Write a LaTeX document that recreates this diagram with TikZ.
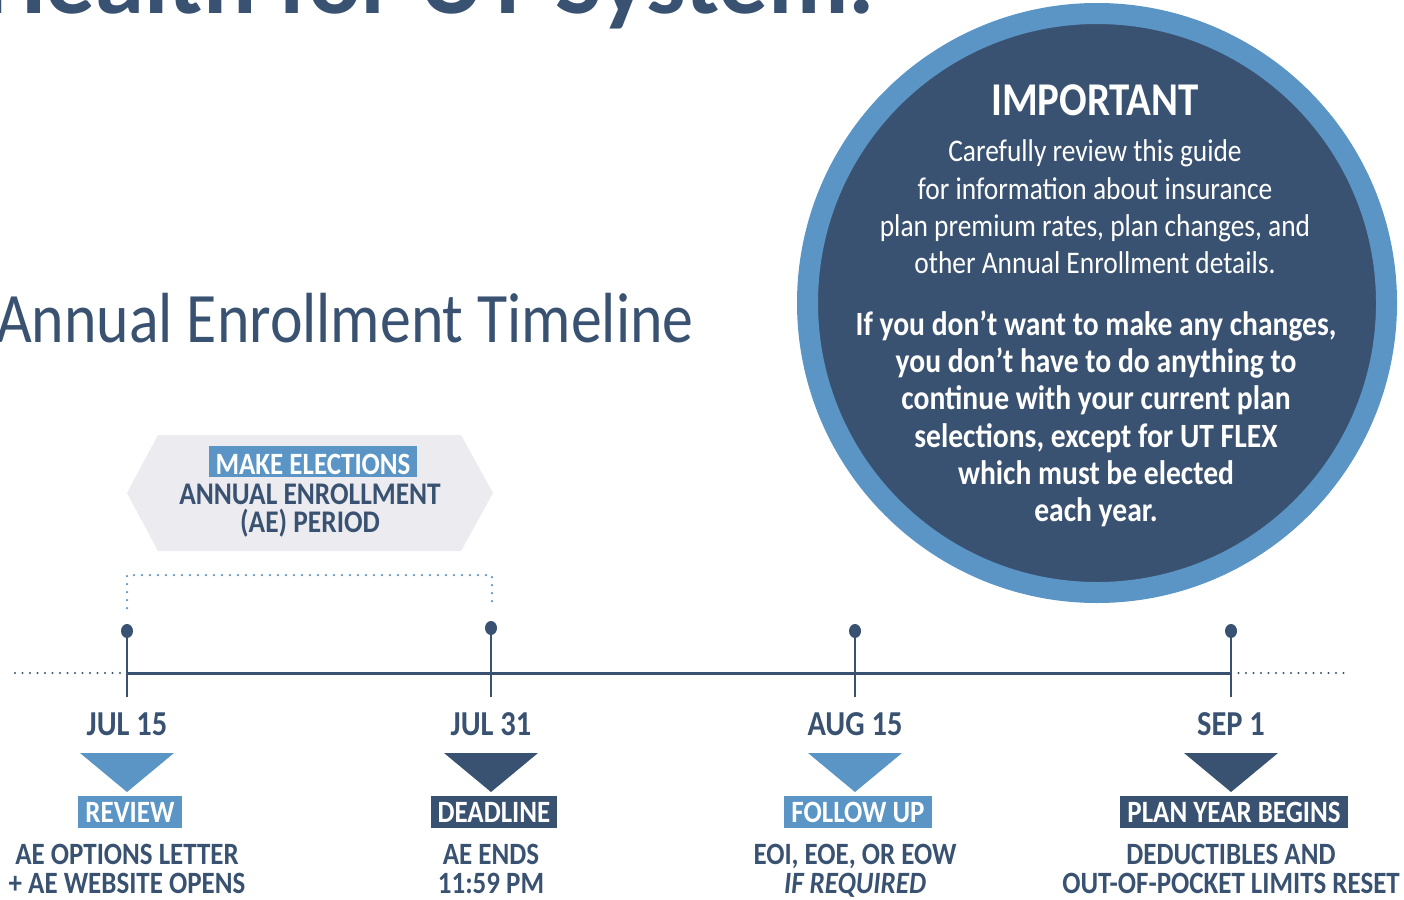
\documentclass[tikz,border=0pt]{standalone}
\usepackage{fontspec}
\setmainfont{Carlito}[FakeStretch=0.87]
\newfontfamily\widefont{Carlito}
\definecolor{navy}{HTML}{3A5271}
\definecolor{lblue}{HTML}{5A95C6}
\definecolor{hexgrey}{HTML}{ECECF0}
\newcommand{\fsz}[1]{\fontsize{#1}{#1}\selectfont}
\begin{document}
\begin{tikzpicture}[x=1pt,y=-1pt,
  datelbl/.style={anchor=base, inner sep=0pt, text=navy, font=\bfseries\fsz{35}},
  desclbl/.style={anchor=base, inner sep=0pt, text=navy, font=\bfseries\fsz{31}},
  tag/.style={anchor=base, inner xsep=7pt, inner ysep=0pt, text height=26pt, text depth=6pt, text=white, font=\bfseries\fsz{31}},
  circreg/.style={anchor=base, inner sep=0pt, text=white, font=\fsz{31.5}},
  circbold/.style={anchor=base, inner sep=0pt, text=white, font=\bfseries\fsz{34}},
  hexlbl/.style={anchor=base, inner sep=0pt, text=navy, font=\bfseries\fsz{31.5}},
  tickline/.style={navy, line width=2.5pt},
  mainline/.style={navy, line width=3pt},
  dotline/.style={navy, line width=2.3pt, line cap=round, dash pattern=on 0pt off 7.5pt},
  bracket/.style={lblue, line width=2.5pt, line cap=round, dash pattern=on 0pt off 8pt}]
\useasboundingbox (0,0) rectangle (1404,899);
\clip (0,0) rectangle (1404,899);
\fill[white] (0,0) rectangle (1404,899);

% title (cut off at the top, as in the reference)
\node[anchor=base west, inner sep=0pt, text=navy, font=\widefont\bfseries\fsz{99}] (title) at (-17,14) {Health for UT System.};
\node[anchor=base west, inner sep=0pt, text=navy, font=\fsz{71}] (subtitle) at (-4,342) {Annual Enrollment Timeline};

% important circle
\node[circle, fill=navy, draw=lblue, line width=21pt, minimum size=579pt, inner sep=0pt] (imp) at (1097,303) {};
\node[anchor=base, inner sep=0pt, text=white, font=\bfseries\fsz{47}] (imph) at (1095,115) {IMPORTANT};
\node[circreg] (r1) at (1095,161) {Carefully review this guide};
\node[circreg] (r2) at (1095,199) {for information about insurance};
\node[circreg] (r3) at (1095,236) {plan premium rates, plan changes, and};
\node[circreg] (r4) at (1095,273) {other Annual Enrollment details.};
\node[circbold] (b1) at (1096,335) {If you don’t want to make any changes,};
\node[circbold] (b2) at (1096,372) {you don’t have to do anything to};
\node[circbold] (b3) at (1096,409) {continue with your current plan};
\node[circbold] (b4) at (1096,447) {selections, except for UT FLEX};
\node[circbold] (b5) at (1096,484) {which must be elected};
\node[circbold] (b6) at (1096,521) {each year.};

% AE period hexagon
\fill[hexgrey] (127,493) -- (158,435) -- (461,435) -- (493,493) -- (461,551) -- (158,551) -- cycle;
\node[tag, fill=lblue, text height=28pt, text depth=3pt] (make) at (313,474) {MAKE ELECTIONS};
\node[hexlbl] (ae1) at (310,504) {ANNUAL ENROLLMENT};
\node[hexlbl] (ae2) at (310,532) {(AE) PERIOD};

% bracket
\coordinate (brA) at (127,608);
\coordinate (brB) at (127,575);
\coordinate (brC) at (492,575);
\coordinate (brD) at (492,608);
\draw[bracket] (brA) -- (brB) -- (brC) -- (brD);

% main timeline
\coordinate (L0) at (15,673);
\coordinate (L1) at (127,673);
\coordinate (L4) at (1231,673);
\coordinate (L5) at (1345,673);
\draw[dotline] (L0) -- (L1);
\draw[dotline] (L4) -- (L5);
\draw[mainline] (L1) -- (L4);

\foreach \x/\ty/\dt/\col/\lab/\la/\lb/\n in {
  127/631/JUL 15/lblue/REVIEW/AE OPTIONS LETTER/+ AE WEBSITE OPENS/a,
  491/628/JUL 31/navy/DEADLINE/AE ENDS/11:59 PM/b,
  855/631/AUG 15/lblue/FOLLOW UP/{EOI, EOE, OR EOW}/{\itshape IF REQUIRED}/c,
  1231/631/SEP 1/navy/PLAN YEAR BEGINS/DEDUCTIBLES AND/OUT-OF-POCKET LIMITS RESET/d}{
  \coordinate (top\n) at (\x,\ty);
  \coordinate (bot\n) at (\x,697);
  \draw[tickline] (top\n) -- (bot\n);
  \fill[navy] (top\n) ellipse (6pt and 7pt);
  \node[datelbl] (date\n) at (\x,735) {\dt};
  \fill[\col] (\x-47,753) -- (\x+47,753) -- (\x,792) -- cycle;
  \node[tag, fill=\col] (box\n) at (\x+3,822) {\lab};
  \node[desclbl] (da\n) at (\x,864) {\la};
  \node[desclbl] (db\n) at (\x,893) {\lb};
}
\end{tikzpicture}
\end{document}
